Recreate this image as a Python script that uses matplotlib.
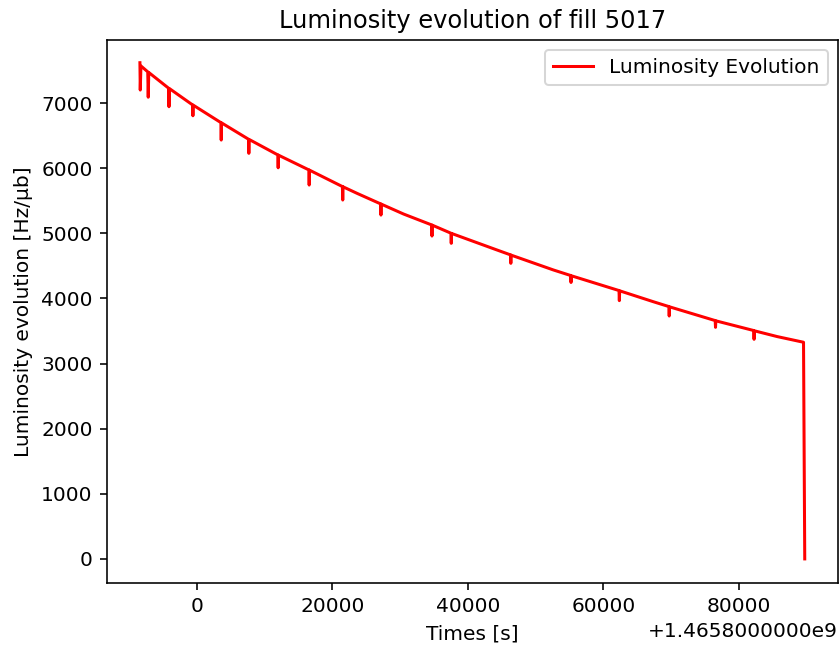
import matplotlib
matplotlib.use('Agg')
import matplotlib.pyplot as plt
import matplotlib.ticker as ticker
import numpy as np

t0 = 1465800000

# time offsets [s] relative to t0 (dips included)
time_offset = [
    -8400, -8350, -8250, -7244, -7174, -7094,
    -4160, -4110, -4060,
    -628, -578, -529,
    3550, 3600, 3650,
    7629, 7679, 7729,
    11956, 12006, 12056,
    16533, 16583, 16633,
    21487, 21537, 21587,
    23645,
    27127, 27177, 27227,
    30520,
    34658, 34708, 34758,
    37503, 37553, 37603,
    44040,
    46298, 46348, 46398,
    52635,
    55182, 55232, 55282,
    62314, 62364, 62414,
    67367,
    69675, 69725, 69775,
    76510, 76560, 76610,
    82200, 82250, 82300,
    85672, 89550, 89730,
]

luminosity = [
    7620, 7200, 7570, 7480, 7090, 7470,
    7228, 6944, 7224,
    6972, 6805, 6968,
    6700, 6432, 6696,
    6445, 6228, 6441,
    6204, 6006, 6200,
    5974, 5741, 5970,
    5718, 5511, 5714,
    5614,
    5452, 5280, 5448,
    5296,
    5129, 4958, 5125,
    5002, 4846, 4998,
    4754,
    4669, 4539, 4665,
    4437,
    4352, 4245, 4348,
    4121, 3966, 4117,
    3950,
    3875, 3730, 3871,
    3660, 3556, 3656,
    3507, 3372, 3503,
    3414, 3327, 0,
]

times = t0 + np.array(time_offset)


class OffsetFormatter(ticker.ScalarFormatter):
    # old-style long offset string, e.g. +1.4658000000e9
    def get_offset(self):
        if not self.offset:
            return ''
        return '+%.10fe9' % (self.offset / 1e9)


dpi = 145
fig, ax = plt.subplots(figsize=(840 / dpi, 649 / dpi), dpi=dpi)
fig.subplots_adjust(left=0.127, right=0.9976, bottom=0.1017, top=0.938)

ax.plot(times, luminosity, color='red', label='Luminosity Evolution')
ax.set_title('Luminosity evolution of fill 5017')
ax.set_xlabel('Times [s]')
ax.set_ylabel('Luminosity evolution [Hz/μb]')
ax.set_ylim(-370, 7965)
fmt = OffsetFormatter(useOffset=t0)
ax.xaxis.set_major_formatter(fmt)
ax.legend(loc='upper right')

plt.savefig('out.png', dpi=dpi)
